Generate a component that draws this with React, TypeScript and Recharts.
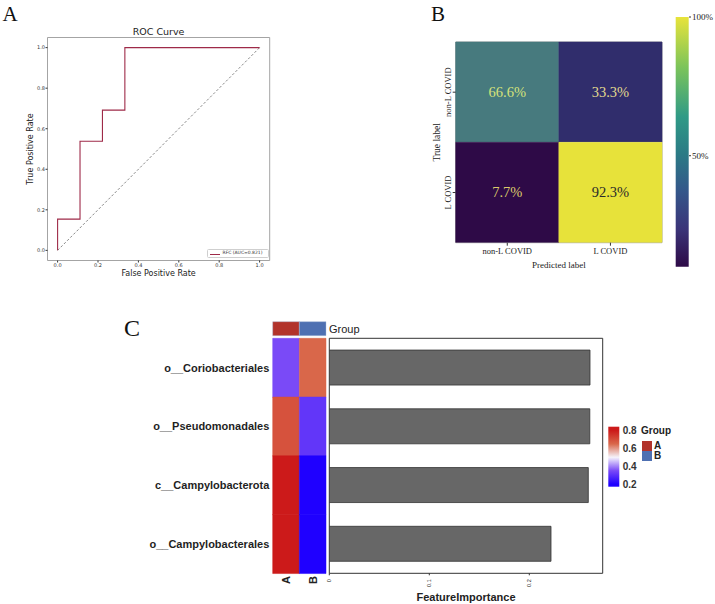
import React from 'react';
import {
  LineChart,
  Line,
  XAxis,
  YAxis,
  ReferenceArea,
  ReferenceLine,
  BarChart,
  Bar,
  Cell,
  LabelList,
} from 'recharts';

// ---------------- Panel A : ROC curve ----------------
const rocFpr = [0, 0, 0.111, 0.111, 0.222, 0.222, 0.333, 0.333, 1];
const rocTpr = [0, 0.154, 0.154, 0.538, 0.538, 0.692, 0.692, 1, 1];
const rocAxisTicks = [0, 0.2, 0.4, 0.6, 0.8, 1];
const rocSeriesName = 'RFC (AUC=0.821)';
const rocTitle = 'ROC Curve';

// ---------------- Panel B : confusion matrix ----------------
const cmTrueLabels = ['non-L COVID', 'L COVID'];
const cmPredLabels = ['non-L COVID', 'L COVID'];
const cmRowNonL = [66.6, 33.3];
const cmRowL = [7.7, 92.3];
const cmBarTicks = [50, 100];
const cmBarRange = [10, 100];

// ---------------- Panel C : feature importance ----------------
const features = ['o__Coriobacteriales', 'o__Pseudomonadales', 'c__Campylobacterota', 'o__Campylobacterales'];
const importance = [0.2607, 0.2605, 0.259, 0.2217];
const heatA = [0.35, 0.69, 0.8, 0.8];
const heatB = [0.65, 0.31, 0.2, 0.2];
const groups = ['A', 'B'];
const importanceTicks = [0, 0.1, 0.2];
const heatTicks = [0.2, 0.4, 0.6, 0.8];
const heatLegendRange = [0.17, 0.843];

// ---------------- styles ----------------
const SANS = 'Liberation Sans, Arial, sans-serif';
const SERIF = 'Liberation Serif, Times New Roman, serif';
const DEJAVU = 'DejaVu Sans, sans-serif';
const rocColor = '#9e2a48';
const cmCellColors = [
  ['#477a7e', '#302d6c'],
  ['#2e0a47', '#e7e23a'],
];
const cmTextColors = [
  ['#d6e27a', '#e2da8e'],
  ['#dccb6a', '#2a2a2a'],
];
const viridisStops: [number, string][] = [
  [0, '#e8e33a'],
  [0.2, '#7cc45a'],
  [0.4, '#2f9a86'],
  [0.55, '#2b7a85'],
  [0.7, '#34568a'],
  [0.85, '#3b3478'],
  [1, '#2e0a47'],
];
const heatStops: [number, string][] = [
  [0.2, '#1f00ff'],
  [0.35, '#7a4af7'],
  [0.5, '#f5f3fb'],
  [0.65, '#d9674a'],
  [0.8, '#cc1a1a'],
];
const groupColors = ['#b2332b', '#4e70b2'];

function hexToRgb(h: string) {
  const n = parseInt(h.slice(1), 16);
  return [(n >> 16) & 255, (n >> 8) & 255, n & 255];
}
function heatColor(v: number) {
  if (v <= heatStops[0][0]) return heatStops[0][1];
  for (let i = 1; i < heatStops.length; i++) {
    const [v1, c1] = heatStops[i];
    const [v0, c0] = heatStops[i - 1];
    if (v <= v1) {
      const t = (v - v0) / (v1 - v0);
      const a = hexToRgb(c0);
      const b = hexToRgb(c1);
      const m = a.map((x, k) => Math.round(x + (b[k] - x) * t));
      return `rgb(${m[0]},${m[1]},${m[2]})`;
    }
  }
  return heatStops[heatStops.length - 1][1];
}

// ---------------- chart data tables ----------------
const rocData = rocFpr.map((f, i) => ({ fpr: f, tpr: rocTpr[i] }));
const cmRows = [cmRowNonL, cmRowL];
const cmData = cmTrueLabels.map((r, i) => ({
  row: r,
  c0: 1,
  c1: 1,
  p0: `${cmRows[i][0]}%`,
  p1: `${cmRows[i][1]}%`,
}));
const heatData = features.map((f) => ({ feature: f, A: 1, B: 1 }));
const fiData = features.map((f, i) => ({ feature: f, importance: importance[i] }));
const groupData = [{ name: 'Group', A: 1, B: 1 }];

// ---------------- helpers ----------------
function RotTick(props: any) {
  const { x, y, payload, fontSize, fontWeight, fmt } = props;
  const label = fmt ? fmt(payload.value) : payload.value;
  return (
    <text
      x={x}
      y={y}
      transform={`rotate(-90 ${x} ${y})`}
      textAnchor="end"
      dy="0.35em"
      fontSize={fontSize}
      fontWeight={fontWeight}
      fill="#222"
      fontFamily={SANS}
    >
      {label}
    </text>
  );
}

function CmYTick(props: any) {
  const { x, y, payload } = props;
  return (
    <text
      x={x}
      y={y}
      transform={`rotate(-90 ${x} ${y})`}
      textAnchor="middle"
      dy="0.35em"
      fontSize={8.5}
      fill="#222"
      fontFamily={SERIF}
    >
      {payload.value}
    </text>
  );
}

function makeCmLabel(col: number) {
  return (props: any) => {
    const { x, y, width, height, value, index } = props;
    return (
      <text
        x={x + width / 2}
        y={y + height / 2}
        textAnchor="middle"
        dominantBaseline="central"
        fontSize={14.5}
        fill={cmTextColors[index][col]}
        fontFamily={SERIF}
      >
        {value}
      </text>
    );
  };
}

function RocPanel() {
  const tickStyle = { fontSize: 5, fill: '#333', fontFamily: DEJAVU };
  return (
    <LineChart width={290} height={290} data={rocData} margin={{ top: 25.5, right: 20.3, bottom: 4.5, left: 12.5 }}>
      <XAxis
        xAxisId="title"
        orientation="top"
        type="number"
        domain={[0, 1]}
        height={12}
        tick={false}
        tickLine={false}
        axisLine={false}
        label={{ value: rocTitle, position: 'center', fontSize: 9.5, fill: '#222', fontFamily: DEJAVU }}
      />
      <XAxis
        type="number"
        dataKey="fpr"
        domain={[-0.05, 1.05]}
        allowDataOverflow
        ticks={rocAxisTicks}
        interval={0}
        tickFormatter={(v: number) => v.toFixed(1)}
        height={25}
        tickSize={2}
        tickMargin={1}
        axisLine={false}
        stroke="#333"
        tick={tickStyle}
        label={{ value: 'False Positive Rate', position: 'center', fontSize: 8, fill: '#222', fontFamily: DEJAVU }}
      />
      <YAxis
        type="number"
        domain={[-0.05, 1.05]}
        allowDataOverflow
        ticks={rocAxisTicks}
        interval={0}
        tickFormatter={(v: number) => v.toFixed(1)}
        width={35}
        tickSize={2}
        tickMargin={0.5}
        axisLine={false}
        stroke="#333"
        tick={tickStyle}
        label={{ value: 'True Positive Rate', angle: -90, position: 'center', fontSize: 8, fill: '#222', fontFamily: DEJAVU }}
      />
      <ReferenceArea x1={-0.05} x2={1.05} y1={-0.05} y2={1.05} fill="none" stroke="#9a9a9a" strokeWidth={0.9} />
      <ReferenceLine
        segment={[
          { x: 0, y: 0 },
          { x: 1, y: 1 },
        ]}
        stroke="#555"
        strokeWidth={0.7}
        strokeDasharray="2.5 2"
      />
      <Line
        type="linear"
        dataKey="tpr"
        name={rocSeriesName}
        stroke={rocColor}
        strokeWidth={1.1}
        dot={false}
        isAnimationActive={false}
      />
    </LineChart>
  );
}

function ConfusionPanel() {
  return (
    <BarChart
      layout="vertical"
      width={310}
      height={300}
      data={cmData}
      margin={{ top: 42, right: 8, bottom: 12.7, left: 58.3 }}
      barCategoryGap={0}
    >
      <XAxis
        type="number"
        domain={[0, 2]}
        ticks={[0.5, 1.5]}
        interval={0}
        tickFormatter={(v: number) => cmPredLabels[Math.floor(v)]}
        height={44.6}
        tickSize={3}
        tickMargin={2}
        axisLine={false}
        stroke="#333"
        tick={{ fontSize: 8.5, fill: '#222', fontFamily: SERIF }}
        label={{ value: 'Predicted label', position: 'center', fontSize: 9, fill: '#222', fontFamily: SERIF }}
      />
      <YAxis
        type="category"
        dataKey="row"
        width={37.4}
        tickSize={3}
        tickMargin={4.4}
        axisLine={false}
        stroke="#333"
        interval={0}
        tick={<CmYTick />}
        label={{ value: 'True label', angle: -90, position: 'center', fontSize: 9.5, fill: '#222', fontFamily: SERIF }}
      />
      <Bar dataKey="c0" stackId="cm" isAnimationActive={false}>
        {cmData.map((_, i) => (
          <Cell key={i} fill={cmCellColors[i][0]} stroke={cmCellColors[i][0]} strokeWidth={0.5} />
        ))}
        <LabelList dataKey="p0" content={makeCmLabel(0)} />
      </Bar>
      <Bar dataKey="c1" stackId="cm" isAnimationActive={false}>
        {cmData.map((_, i) => (
          <Cell key={i} fill={cmCellColors[i][1]} stroke={cmCellColors[i][1]} strokeWidth={0.5} />
        ))}
        <LabelList dataKey="p1" content={makeCmLabel(1)} />
      </Bar>
      <ReferenceArea x1={0} x2={2} fill="none" stroke="#8a8a8a" strokeWidth={0.8} />
    </BarChart>
  );
}

function ConfusionColorbar() {
  const lo = cmBarRange[0];
  return (
    <BarChart
      width={75}
      height={280}
      data={[{ k: 'cb', r: cmBarRange }]}
      margin={{ top: 17, right: 0, bottom: 13.3, left: 35.7 }}
      barCategoryGap={0}
    >
      <defs>
        <linearGradient id="viridisGrad" x1="0" y1="0" x2="0" y2="1">
          {viridisStops.map(([o, c], i) => (
            <stop key={i} offset={o} stopColor={c} />
          ))}
        </linearGradient>
      </defs>
      <XAxis dataKey="k" hide />
      <YAxis
        orientation="right"
        type="number"
        domain={[lo, cmBarRange[1]]}
        ticks={cmBarTicks}
        interval={0}
        tickFormatter={(v: number) => `${v}%`}
        width={26}
        tickSize={2}
        tickMargin={1}
        axisLine={false}
        stroke="#333"
        tick={{ fontSize: 9, fill: '#222', fontFamily: SERIF }}
      />
      <Bar dataKey="r" fill="url(#viridisGrad)" isAnimationActive={false} />
    </BarChart>
  );
}

function GroupBar() {
  return (
    <BarChart
      layout="vertical"
      width={240}
      height={22}
      data={groupData}
      margin={{ top: 3.7, right: 0, bottom: 4, left: 132.7 }}
      barCategoryGap={0}
    >
      <XAxis type="number" domain={[0, 2]} hide />
      <YAxis
        type="category"
        dataKey="name"
        orientation="right"
        width={54}
        tickSize={0}
        tickMargin={3}
        axisLine={false}
        tick={{ fontSize: 11, fill: '#222', fontFamily: SANS }}
      />
      {groups.map((g, i) => (
        <Bar key={g} dataKey={g} stackId="g" fill={groupColors[i]} stroke="#a9bedc" strokeWidth={0.4} isAnimationActive={false} />
      ))}
    </BarChart>
  );
}

function HeatPanel() {
  const heatCols = [heatA, heatB];
  return (
    <BarChart
      layout="vertical"
      width={190}
      height={280}
      data={heatData}
      margin={{ top: 18.3, right: 4, bottom: 0, left: 0 }}
      barCategoryGap={0}
    >
      <XAxis
        type="number"
        domain={[0, 2]}
        ticks={[0.5, 1.5]}
        interval={0}
        height={26.7}
        tickSize={0}
        tickMargin={2.7}
        axisLine={false}
        tick={<RotTick fontSize={11} fontWeight="bold" fmt={(v: number) => groups[Math.floor(v)]} />}
      />
      <YAxis
        type="category"
        dataKey="feature"
        width={132.7}
        tickSize={0}
        tickMargin={3.4}
        axisLine={false}
        interval={0}
        tick={{ fontSize: 11, fontWeight: 'bold', fill: '#1f1f1f', fontFamily: SANS }}
      />
      {groups.map((g, gi) => (
        <Bar key={g} dataKey={g} stackId="h" isAnimationActive={false}>
          {heatCols[gi].map((v, i) => (
            <Cell key={i} fill={heatColor(v)} stroke={heatColor(v)} strokeWidth={0.5} />
          ))}
        </Bar>
      ))}
    </BarChart>
  );
}

function ImportancePanel() {
  const xMax = 0.2734;
  return (
    <BarChart
      layout="vertical"
      width={300}
      height={284}
      data={fiData}
      margin={{ top: 18.3, right: 17.3, bottom: 0, left: 9.3 }}
      barCategoryGap="20%"
    >
      <XAxis
        type="number"
        domain={[0, xMax]}
        allowDataOverflow
        ticks={importanceTicks}
        interval={0}
        height={30.7}
        tickSize={2}
        tickMargin={4}
        axisLine={false}
        stroke="#333"
        tick={<RotTick fontSize={5.5} fmt={(v: number) => String(v)} />}
        label={{
          value: 'FeatureImportance',
          position: 'insideBottom',
          offset: 3.5,
          fontSize: 11,
          fontWeight: 'bold',
          fill: '#222',
          fontFamily: SANS,
        }}
      />
      <YAxis type="category" dataKey="feature" hide />
      <ReferenceArea x1={0} x2={xMax} fill="none" stroke="#333" strokeWidth={1} />
      <Bar dataKey="importance" fill="#676767" stroke="#333" strokeWidth={0.8} isAnimationActive={false} />
    </BarChart>
  );
}

function HeatLegend() {
  const [lo, hi] = heatLegendRange;
  const stops = [...heatStops].reverse();
  return (
    <BarChart
      width={60}
      height={80}
      data={[{ k: 'h', r: heatLegendRange }]}
      margin={{ top: 11.7, right: 0, bottom: 8.3, left: 8.3 }}
      barCategoryGap={0}
    >
      <defs>
        <linearGradient id="heatGrad" x1="0" y1="0" x2="0" y2="1">
          {stops.map(([v, c], i) => (
            <stop key={i} offset={Math.min(1, Math.max(0, (hi - v) / (hi - lo)))} stopColor={c} />
          ))}
        </linearGradient>
      </defs>
      <XAxis dataKey="k" hide />
      <YAxis
        orientation="right"
        type="number"
        domain={[lo, hi]}
        ticks={heatTicks}
        interval={0}
        tickFormatter={(v: number) => v.toFixed(1)}
        width={40.7}
        tickSize={0}
        tickMargin={3.4}
        axisLine={false}
        tick={{ fontSize: 10, fontWeight: 'bold', fill: '#333', fontFamily: SANS }}
      />
      <Bar dataKey="r" fill="url(#heatGrad)" isAnimationActive={false} />
    </BarChart>
  );
}

const abs = (left: number, top: number): React.CSSProperties => ({ position: 'absolute', left, top });

export default function App() {
  return (
    <div style={{ position: 'absolute', left: 0, top: 0, width: 715, height: 604, background: '#fff', overflow: 'hidden' }}>
      <div style={{ ...abs(2.5, 3), fontFamily: SERIF, fontSize: 21, lineHeight: 1.1, color: '#111' }}>A</div>
      <div style={{ ...abs(431, 3), fontFamily: SERIF, fontSize: 21, lineHeight: 1.1, color: '#111' }}>B</div>
      <div style={{ ...abs(124, 316), fontFamily: SERIF, fontSize: 24, lineHeight: 1, color: '#111' }}>C</div>

      <div style={abs(0, 0)}>
        <RocPanel />
      </div>
      <div
        style={{
          ...abs(207, 249.3),
          width: 61.5,
          height: 9,
          border: '0.6px solid #cfcfcf',
          borderRadius: 1.5,
          boxSizing: 'border-box',
          background: '#fff',
        }}
      >
        <div style={{ ...abs(2, 3.7), width: 10, height: 1.1, background: rocColor }} />
        <div style={{ ...abs(14.5, 1.2), fontFamily: DEJAVU, fontSize: 4.5, lineHeight: 1, color: '#333', whiteSpace: 'nowrap' }}>
          {rocSeriesName}
        </div>
      </div>

      <div style={abs(360, 0)}>
        <ConfusionPanel />
      </div>
      <div style={abs(640, 0)}>
        <ConfusionColorbar />
      </div>

      <div style={abs(140, 318)}>
        <GroupBar />
      </div>
      <div style={abs(140, 320)}>
        <HeatPanel />
      </div>
      <div style={abs(320, 320)}>
        <ImportancePanel />
      </div>
      <div style={abs(600, 415)}>
        <HeatLegend />
      </div>

      <div style={{ ...abs(641, 425.5), fontFamily: SANS, fontSize: 10, fontWeight: 'bold', color: '#222', lineHeight: 1 }}>
        Group
      </div>
      {groups.map((g, i) => (
        <React.Fragment key={g}>
          <div style={{ ...abs(641.7, 441 + i * 10), width: 10, height: 9.7, background: groupColors[i] }} />
          <div style={{ ...abs(654, 440.5 + i * 10), fontFamily: SANS, fontSize: 10, fontWeight: 'bold', color: '#222', lineHeight: 1 }}>
            {g}
          </div>
        </React.Fragment>
      ))}
    </div>
  );
}
